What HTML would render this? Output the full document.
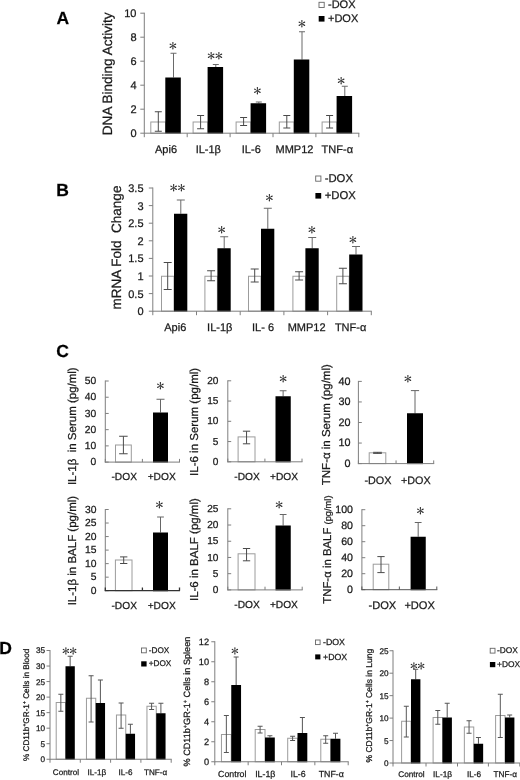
<!DOCTYPE html>
<html><head><meta charset="utf-8"><title>Figure</title>
<style>html,body{margin:0;padding:0;background:#fff}svg{display:block}text{font-family:"Liberation Sans",Arial,sans-serif;text-rendering:geometricPrecision;stroke:#1a1a1a;stroke-width:0.25px}text.st{font-family:IPAGothic,"DejaVu Sans",sans-serif;stroke:none;fill:#2a2a2a}</style>
</head><body>
<svg width="520" height="780" viewBox="0 0 520 780">
<defs><filter id="soft" x="0" y="0" width="520" height="780" filterUnits="userSpaceOnUse"><feGaussianBlur stdDeviation="0.35"/></filter></defs>
<rect width="520" height="780" fill="#fff"/>
<g filter="url(#soft)">
<g id="panelA">
<text x="56.50" y="23.90" font-size="17.5" text-anchor="start" font-weight="bold" fill="#000">A</text>
<line x1="144.30" y1="12.70" x2="144.30" y2="133.70" stroke="#7f7f7f" stroke-width="1"/>
<line x1="140.30" y1="13.20" x2="144.30" y2="13.20" stroke="#7f7f7f" stroke-width="1"/>
<text x="136.50" y="17.16" font-size="11" text-anchor="end" fill="#1a1a1a">10</text>
<line x1="140.30" y1="37.20" x2="144.30" y2="37.20" stroke="#7f7f7f" stroke-width="1"/>
<text x="136.50" y="41.16" font-size="11" text-anchor="end" fill="#1a1a1a">8</text>
<line x1="140.30" y1="61.20" x2="144.30" y2="61.20" stroke="#7f7f7f" stroke-width="1"/>
<text x="136.50" y="65.16" font-size="11" text-anchor="end" fill="#1a1a1a">6</text>
<line x1="140.30" y1="85.20" x2="144.30" y2="85.20" stroke="#7f7f7f" stroke-width="1"/>
<text x="136.50" y="89.16" font-size="11" text-anchor="end" fill="#1a1a1a">4</text>
<line x1="140.30" y1="109.20" x2="144.30" y2="109.20" stroke="#7f7f7f" stroke-width="1"/>
<text x="136.50" y="113.16" font-size="11" text-anchor="end" fill="#1a1a1a">2</text>
<line x1="140.30" y1="133.20" x2="144.30" y2="133.20" stroke="#7f7f7f" stroke-width="1"/>
<text x="136.50" y="137.16" font-size="11" text-anchor="end" fill="#1a1a1a">0</text>
<text x="111.90" y="73.80" font-size="13.55" text-anchor="middle" transform="rotate(-90 111.90 73.80)" fill="#1a1a1a">DNA Binding Activity</text>
<rect x="150.80" y="122.00" width="14.70" height="11.20" fill="#fff" stroke="#9c9c9c" stroke-width="1"/>
<line x1="158.30" y1="111.75" x2="158.30" y2="131.25" stroke="#4a4a4a" stroke-width="1"/>
<line x1="154.80" y1="111.75" x2="161.80" y2="111.75" stroke="#4a4a4a" stroke-width="1"/>
<line x1="154.80" y1="131.25" x2="161.80" y2="131.25" stroke="#4a4a4a" stroke-width="1"/>
<line x1="173.50" y1="53.25" x2="173.50" y2="77.50" stroke="#6a6a6a" stroke-width="1"/>
<line x1="170.50" y1="53.25" x2="176.50" y2="53.25" stroke="#6a6a6a" stroke-width="1"/>
<rect x="165.30" y="77.50" width="15.50" height="56.20" fill="#000"/>
<text x="173.00" y="49.64" font-size="11.3" text-anchor="middle" class="st">＊</text>
<rect x="193.10" y="122.00" width="14.70" height="11.20" fill="#fff" stroke="#9c9c9c" stroke-width="1"/>
<line x1="200.60" y1="115.50" x2="200.60" y2="128.75" stroke="#4a4a4a" stroke-width="1"/>
<line x1="197.10" y1="115.50" x2="204.10" y2="115.50" stroke="#4a4a4a" stroke-width="1"/>
<line x1="197.10" y1="128.75" x2="204.10" y2="128.75" stroke="#4a4a4a" stroke-width="1"/>
<line x1="215.80" y1="64.50" x2="215.80" y2="67.00" stroke="#6a6a6a" stroke-width="1"/>
<line x1="212.80" y1="64.50" x2="218.80" y2="64.50" stroke="#6a6a6a" stroke-width="1"/>
<rect x="207.60" y="67.00" width="15.50" height="66.70" fill="#000"/>
<text x="211.20" y="59.54" font-size="11.3" text-anchor="middle" class="st">＊</text>
<text x="218.80" y="59.54" font-size="11.3" text-anchor="middle" class="st">＊</text>
<rect x="236.10" y="122.00" width="14.70" height="11.20" fill="#fff" stroke="#9c9c9c" stroke-width="1"/>
<line x1="243.60" y1="117.50" x2="243.60" y2="125.50" stroke="#4a4a4a" stroke-width="1"/>
<line x1="240.10" y1="117.50" x2="247.10" y2="117.50" stroke="#4a4a4a" stroke-width="1"/>
<line x1="240.10" y1="125.50" x2="247.10" y2="125.50" stroke="#4a4a4a" stroke-width="1"/>
<line x1="258.80" y1="102.00" x2="258.80" y2="103.25" stroke="#6a6a6a" stroke-width="1"/>
<line x1="255.80" y1="102.00" x2="261.80" y2="102.00" stroke="#6a6a6a" stroke-width="1"/>
<rect x="250.60" y="103.25" width="15.50" height="30.45" fill="#000"/>
<text x="257.50" y="94.74" font-size="11.3" text-anchor="middle" class="st">＊</text>
<rect x="279.30" y="122.00" width="14.70" height="11.20" fill="#fff" stroke="#9c9c9c" stroke-width="1"/>
<line x1="286.80" y1="115.50" x2="286.80" y2="128.00" stroke="#4a4a4a" stroke-width="1"/>
<line x1="283.30" y1="115.50" x2="290.30" y2="115.50" stroke="#4a4a4a" stroke-width="1"/>
<line x1="283.30" y1="128.00" x2="290.30" y2="128.00" stroke="#4a4a4a" stroke-width="1"/>
<line x1="302.00" y1="31.75" x2="302.00" y2="59.50" stroke="#6a6a6a" stroke-width="1"/>
<line x1="299.00" y1="31.75" x2="305.00" y2="31.75" stroke="#6a6a6a" stroke-width="1"/>
<rect x="293.80" y="59.50" width="15.50" height="74.20" fill="#000"/>
<text x="302.00" y="28.49" font-size="11.3" text-anchor="middle" class="st">＊</text>
<rect x="322.10" y="122.00" width="14.70" height="11.20" fill="#fff" stroke="#9c9c9c" stroke-width="1"/>
<line x1="329.60" y1="115.50" x2="329.60" y2="128.00" stroke="#4a4a4a" stroke-width="1"/>
<line x1="326.10" y1="115.50" x2="333.10" y2="115.50" stroke="#4a4a4a" stroke-width="1"/>
<line x1="326.10" y1="128.00" x2="333.10" y2="128.00" stroke="#4a4a4a" stroke-width="1"/>
<line x1="344.80" y1="86.25" x2="344.80" y2="96.00" stroke="#6a6a6a" stroke-width="1"/>
<line x1="341.80" y1="86.25" x2="347.80" y2="86.25" stroke="#6a6a6a" stroke-width="1"/>
<rect x="336.60" y="96.00" width="15.50" height="37.70" fill="#000"/>
<text x="341.25" y="84.74" font-size="11.3" text-anchor="middle" class="st">＊</text>
<line x1="144.30" y1="133.20" x2="359.30" y2="133.20" stroke="#7f7f7f" stroke-width="1"/>
<line x1="144.30" y1="133.20" x2="144.30" y2="137.20" stroke="#7f7f7f" stroke-width="1"/>
<line x1="187.20" y1="133.20" x2="187.20" y2="137.20" stroke="#7f7f7f" stroke-width="1"/>
<line x1="230.10" y1="133.20" x2="230.10" y2="137.20" stroke="#7f7f7f" stroke-width="1"/>
<line x1="273.00" y1="133.20" x2="273.00" y2="137.20" stroke="#7f7f7f" stroke-width="1"/>
<line x1="315.90" y1="133.20" x2="315.90" y2="137.20" stroke="#7f7f7f" stroke-width="1"/>
<line x1="358.80" y1="133.20" x2="358.80" y2="137.20" stroke="#7f7f7f" stroke-width="1"/>
<text x="166.00" y="152.50" font-size="11" text-anchor="middle" fill="#1a1a1a">Api6</text>
<text x="208.30" y="152.50" font-size="11" text-anchor="middle" fill="#1a1a1a">IL-1β</text>
<text x="251.30" y="152.50" font-size="11" text-anchor="middle" fill="#1a1a1a">IL-6</text>
<text x="294.50" y="152.50" font-size="11" text-anchor="middle" fill="#1a1a1a">MMP12</text>
<text x="337.30" y="152.50" font-size="11" text-anchor="middle" fill="#1a1a1a">TNF-α</text>
<rect x="319.00" y="2.30" width="5.2" height="5.2" fill="#fff" stroke="#666" stroke-width="0.9"/>
<rect x="318.70" y="16.00" width="5.8" height="5.6000000000000005" fill="#000"/>
<text x="328.00" y="7.60" font-size="11" text-anchor="start" fill="#1a1a1a">-DOX</text>
<text x="328.00" y="22.00" font-size="11" text-anchor="start" fill="#1a1a1a">+DOX</text>
</g>
<g id="panelB">
<text x="56.20" y="195.90" font-size="17.5" text-anchor="start" font-weight="bold" fill="#000">B</text>
<line x1="152.80" y1="187.50" x2="152.80" y2="311.70" stroke="#7f7f7f" stroke-width="1"/>
<line x1="148.80" y1="188.00" x2="152.80" y2="188.00" stroke="#7f7f7f" stroke-width="1"/>
<text x="143.50" y="191.96" font-size="11" text-anchor="end" fill="#1a1a1a">3.5</text>
<line x1="148.80" y1="205.60" x2="152.80" y2="205.60" stroke="#7f7f7f" stroke-width="1"/>
<text x="143.50" y="209.56" font-size="11" text-anchor="end" fill="#1a1a1a">3</text>
<line x1="148.80" y1="223.20" x2="152.80" y2="223.20" stroke="#7f7f7f" stroke-width="1"/>
<text x="143.50" y="227.16" font-size="11" text-anchor="end" fill="#1a1a1a">2.5</text>
<line x1="148.80" y1="240.80" x2="152.80" y2="240.80" stroke="#7f7f7f" stroke-width="1"/>
<text x="143.50" y="244.76" font-size="11" text-anchor="end" fill="#1a1a1a">2</text>
<line x1="148.80" y1="258.40" x2="152.80" y2="258.40" stroke="#7f7f7f" stroke-width="1"/>
<text x="143.50" y="262.36" font-size="11" text-anchor="end" fill="#1a1a1a">1.5</text>
<line x1="148.80" y1="276.00" x2="152.80" y2="276.00" stroke="#7f7f7f" stroke-width="1"/>
<text x="143.50" y="279.96" font-size="11" text-anchor="end" fill="#1a1a1a">1</text>
<line x1="148.80" y1="293.60" x2="152.80" y2="293.60" stroke="#7f7f7f" stroke-width="1"/>
<text x="143.50" y="297.56" font-size="11" text-anchor="end" fill="#1a1a1a">0.5</text>
<line x1="148.80" y1="311.20" x2="152.80" y2="311.20" stroke="#7f7f7f" stroke-width="1"/>
<text x="143.50" y="315.16" font-size="11" text-anchor="end" fill="#1a1a1a">0</text>
<text x="121.20" y="247.50" font-size="13.5" text-anchor="middle" transform="rotate(-90 121.20 247.50)" fill="#1a1a1a" xml:space="preserve">mRNA Fold  Change</text>
<rect x="161.50" y="276.25" width="12.50" height="34.95" fill="#fff" stroke="#9c9c9c" stroke-width="1"/>
<line x1="167.70" y1="262.50" x2="167.70" y2="289.50" stroke="#4a4a4a" stroke-width="1"/>
<line x1="163.70" y1="262.50" x2="171.70" y2="262.50" stroke="#4a4a4a" stroke-width="1"/>
<line x1="163.70" y1="289.50" x2="171.70" y2="289.50" stroke="#4a4a4a" stroke-width="1"/>
<line x1="180.80" y1="200.00" x2="180.80" y2="213.75" stroke="#6a6a6a" stroke-width="1"/>
<line x1="176.80" y1="200.00" x2="184.80" y2="200.00" stroke="#6a6a6a" stroke-width="1"/>
<rect x="174.00" y="213.75" width="13.30" height="97.95" fill="#000"/>
<text x="173.70" y="191.94" font-size="11.3" text-anchor="middle" class="st">＊</text>
<text x="181.30" y="191.94" font-size="11.3" text-anchor="middle" class="st">＊</text>
<rect x="204.90" y="276.25" width="12.50" height="34.95" fill="#fff" stroke="#9c9c9c" stroke-width="1"/>
<line x1="211.10" y1="270.75" x2="211.10" y2="280.75" stroke="#4a4a4a" stroke-width="1"/>
<line x1="207.10" y1="270.75" x2="215.10" y2="270.75" stroke="#4a4a4a" stroke-width="1"/>
<line x1="207.10" y1="280.75" x2="215.10" y2="280.75" stroke="#4a4a4a" stroke-width="1"/>
<line x1="224.20" y1="236.75" x2="224.20" y2="248.25" stroke="#6a6a6a" stroke-width="1"/>
<line x1="220.20" y1="236.75" x2="228.20" y2="236.75" stroke="#6a6a6a" stroke-width="1"/>
<rect x="217.40" y="248.25" width="13.30" height="63.45" fill="#000"/>
<text x="221.75" y="233.74" font-size="11.3" text-anchor="middle" class="st">＊</text>
<rect x="248.50" y="276.25" width="12.50" height="34.95" fill="#fff" stroke="#9c9c9c" stroke-width="1"/>
<line x1="254.70" y1="269.00" x2="254.70" y2="282.00" stroke="#4a4a4a" stroke-width="1"/>
<line x1="250.70" y1="269.00" x2="258.70" y2="269.00" stroke="#4a4a4a" stroke-width="1"/>
<line x1="250.70" y1="282.00" x2="258.70" y2="282.00" stroke="#4a4a4a" stroke-width="1"/>
<line x1="267.80" y1="208.25" x2="267.80" y2="228.75" stroke="#6a6a6a" stroke-width="1"/>
<line x1="263.80" y1="208.25" x2="271.80" y2="208.25" stroke="#6a6a6a" stroke-width="1"/>
<rect x="261.00" y="228.75" width="13.30" height="82.95" fill="#000"/>
<text x="269.50" y="202.24" font-size="11.3" text-anchor="middle" class="st">＊</text>
<rect x="292.90" y="276.25" width="12.50" height="34.95" fill="#fff" stroke="#9c9c9c" stroke-width="1"/>
<line x1="299.10" y1="271.75" x2="299.10" y2="280.00" stroke="#4a4a4a" stroke-width="1"/>
<line x1="295.10" y1="271.75" x2="303.10" y2="271.75" stroke="#4a4a4a" stroke-width="1"/>
<line x1="295.10" y1="280.00" x2="303.10" y2="280.00" stroke="#4a4a4a" stroke-width="1"/>
<line x1="312.20" y1="237.50" x2="312.20" y2="248.25" stroke="#6a6a6a" stroke-width="1"/>
<line x1="308.20" y1="237.50" x2="316.20" y2="237.50" stroke="#6a6a6a" stroke-width="1"/>
<rect x="305.40" y="248.25" width="13.30" height="63.45" fill="#000"/>
<text x="312.00" y="233.74" font-size="11.3" text-anchor="middle" class="st">＊</text>
<rect x="336.70" y="276.25" width="12.50" height="34.95" fill="#fff" stroke="#9c9c9c" stroke-width="1"/>
<line x1="342.90" y1="268.25" x2="342.90" y2="283.75" stroke="#4a4a4a" stroke-width="1"/>
<line x1="338.90" y1="268.25" x2="346.90" y2="268.25" stroke="#4a4a4a" stroke-width="1"/>
<line x1="338.90" y1="283.75" x2="346.90" y2="283.75" stroke="#4a4a4a" stroke-width="1"/>
<line x1="356.00" y1="246.50" x2="356.00" y2="254.50" stroke="#6a6a6a" stroke-width="1"/>
<line x1="352.00" y1="246.50" x2="360.00" y2="246.50" stroke="#6a6a6a" stroke-width="1"/>
<rect x="349.20" y="254.50" width="13.30" height="57.20" fill="#000"/>
<text x="353.00" y="243.74" font-size="11.3" text-anchor="middle" class="st">＊</text>
<line x1="152.80" y1="311.20" x2="371.80" y2="311.20" stroke="#7f7f7f" stroke-width="1"/>
<line x1="152.80" y1="311.20" x2="152.80" y2="315.20" stroke="#7f7f7f" stroke-width="1"/>
<line x1="196.50" y1="311.20" x2="196.50" y2="315.20" stroke="#7f7f7f" stroke-width="1"/>
<line x1="240.20" y1="311.20" x2="240.20" y2="315.20" stroke="#7f7f7f" stroke-width="1"/>
<line x1="283.90" y1="311.20" x2="283.90" y2="315.20" stroke="#7f7f7f" stroke-width="1"/>
<line x1="327.60" y1="311.20" x2="327.60" y2="315.20" stroke="#7f7f7f" stroke-width="1"/>
<line x1="371.30" y1="311.20" x2="371.30" y2="315.20" stroke="#7f7f7f" stroke-width="1"/>
<text x="175.25" y="331.30" font-size="11" text-anchor="middle" fill="#1a1a1a">Api6</text>
<text x="219.75" y="331.30" font-size="11" text-anchor="middle" fill="#1a1a1a">IL-1β</text>
<text x="263.00" y="331.30" font-size="11" text-anchor="middle" fill="#1a1a1a">IL- 6</text>
<text x="306.60" y="331.30" font-size="11" text-anchor="middle" fill="#1a1a1a">MMP12</text>
<text x="350.60" y="331.30" font-size="11" text-anchor="middle" fill="#1a1a1a">TNF-α</text>
<rect x="315.70" y="176.00" width="5.2" height="5.2" fill="#fff" stroke="#666" stroke-width="0.9"/>
<rect x="315.40" y="193.00" width="5.8" height="5.6000000000000005" fill="#000"/>
<text x="324.70" y="181.80" font-size="11.3" text-anchor="start" fill="#1a1a1a">-DOX</text>
<text x="324.70" y="198.80" font-size="11.3" text-anchor="start" fill="#1a1a1a">+DOX</text>
</g>
<g id="panelC">
<text x="56.30" y="356.50" font-size="17.5" text-anchor="start" font-weight="bold" fill="#000">C</text>
<line x1="105.30" y1="380.50" x2="105.30" y2="462.60" stroke="#7f7f7f" stroke-width="1"/>
<line x1="105.30" y1="381.00" x2="108.70" y2="381.00" stroke="#7f7f7f" stroke-width="1"/>
<text x="96.30" y="384.11" font-size="10.3" text-anchor="end" fill="#1a1a1a">50</text>
<line x1="105.30" y1="397.22" x2="108.70" y2="397.22" stroke="#7f7f7f" stroke-width="1"/>
<text x="96.30" y="400.33" font-size="10.3" text-anchor="end" fill="#1a1a1a">40</text>
<line x1="105.30" y1="413.44" x2="108.70" y2="413.44" stroke="#7f7f7f" stroke-width="1"/>
<text x="96.30" y="416.55" font-size="10.3" text-anchor="end" fill="#1a1a1a">30</text>
<line x1="105.30" y1="429.66" x2="108.70" y2="429.66" stroke="#7f7f7f" stroke-width="1"/>
<text x="96.30" y="432.77" font-size="10.3" text-anchor="end" fill="#1a1a1a">20</text>
<line x1="105.30" y1="445.88" x2="108.70" y2="445.88" stroke="#7f7f7f" stroke-width="1"/>
<text x="96.30" y="448.99" font-size="10.3" text-anchor="end" fill="#1a1a1a">10</text>
<line x1="105.30" y1="462.10" x2="108.70" y2="462.10" stroke="#7f7f7f" stroke-width="1"/>
<text x="96.30" y="465.21" font-size="10.3" text-anchor="end" fill="#1a1a1a">0</text>
<rect x="115.50" y="445.00" width="15.80" height="17.10" fill="#fff" stroke="#9c9c9c" stroke-width="1"/>
<line x1="123.40" y1="436.25" x2="123.40" y2="453.75" stroke="#4a4a4a" stroke-width="1"/>
<line x1="119.15" y1="436.25" x2="127.65" y2="436.25" stroke="#4a4a4a" stroke-width="1"/>
<line x1="119.15" y1="453.75" x2="127.65" y2="453.75" stroke="#4a4a4a" stroke-width="1"/>
<line x1="160.50" y1="399.25" x2="160.50" y2="412.50" stroke="#666" stroke-width="1"/>
<line x1="156.50" y1="399.25" x2="164.50" y2="399.25" stroke="#666" stroke-width="1"/>
<rect x="153.00" y="412.50" width="15.00" height="50.10" fill="#000"/>
<line x1="104.80" y1="462.10" x2="180.00" y2="462.10" stroke="#7f7f7f" stroke-width="1"/>
<line x1="105.30" y1="462.10" x2="105.30" y2="458.90" stroke="#7f7f7f" stroke-width="1"/>
<line x1="142.40" y1="462.10" x2="142.40" y2="458.90" stroke="#7f7f7f" stroke-width="1"/>
<line x1="179.50" y1="462.10" x2="179.50" y2="458.90" stroke="#7f7f7f" stroke-width="1"/>
<text x="160.50" y="390.49" font-size="11.3" text-anchor="middle" class="st">＊</text>
<text x="124.20" y="480.40" font-size="10.2" text-anchor="middle" fill="#1a1a1a">-DOX</text>
<text x="161.70" y="480.40" font-size="10.2" text-anchor="middle" fill="#1a1a1a">+DOX</text>
<text x="76.40" y="426.20" font-size="11.5" text-anchor="middle" transform="rotate(-90 76.40 426.20)" fill="#1a1a1a" xml:space="preserve">IL-1β  in Serum (pg/ml)</text>
<line x1="227.80" y1="380.30" x2="227.80" y2="462.30" stroke="#7f7f7f" stroke-width="1"/>
<line x1="227.80" y1="380.80" x2="231.20" y2="380.80" stroke="#7f7f7f" stroke-width="1"/>
<text x="218.40" y="383.84" font-size="10.1" text-anchor="end" fill="#1a1a1a">20</text>
<line x1="227.80" y1="401.05" x2="231.20" y2="401.05" stroke="#7f7f7f" stroke-width="1"/>
<text x="218.40" y="404.09" font-size="10.1" text-anchor="end" fill="#1a1a1a">15</text>
<line x1="227.80" y1="421.30" x2="231.20" y2="421.30" stroke="#7f7f7f" stroke-width="1"/>
<text x="218.40" y="424.34" font-size="10.1" text-anchor="end" fill="#1a1a1a">10</text>
<line x1="227.80" y1="441.55" x2="231.20" y2="441.55" stroke="#7f7f7f" stroke-width="1"/>
<text x="218.40" y="444.59" font-size="10.1" text-anchor="end" fill="#1a1a1a">5</text>
<line x1="227.80" y1="461.80" x2="231.20" y2="461.80" stroke="#7f7f7f" stroke-width="1"/>
<text x="218.40" y="464.84" font-size="10.1" text-anchor="end" fill="#1a1a1a">0</text>
<rect x="238.10" y="436.90" width="16.90" height="24.90" fill="#fff" stroke="#9c9c9c" stroke-width="1"/>
<line x1="246.55" y1="431.20" x2="246.55" y2="443.80" stroke="#4a4a4a" stroke-width="1"/>
<line x1="242.90" y1="431.20" x2="250.20" y2="431.20" stroke="#4a4a4a" stroke-width="1"/>
<line x1="242.90" y1="443.80" x2="250.20" y2="443.80" stroke="#4a4a4a" stroke-width="1"/>
<line x1="283.12" y1="390.75" x2="283.12" y2="396.25" stroke="#666" stroke-width="1"/>
<line x1="279.73" y1="390.75" x2="286.52" y2="390.75" stroke="#666" stroke-width="1"/>
<rect x="275.50" y="396.25" width="15.25" height="66.05" fill="#000"/>
<line x1="227.30" y1="461.80" x2="302.50" y2="461.80" stroke="#7f7f7f" stroke-width="1"/>
<line x1="227.80" y1="461.80" x2="227.80" y2="458.60" stroke="#7f7f7f" stroke-width="1"/>
<line x1="264.90" y1="461.80" x2="264.90" y2="458.60" stroke="#7f7f7f" stroke-width="1"/>
<line x1="302.00" y1="461.80" x2="302.00" y2="458.60" stroke="#7f7f7f" stroke-width="1"/>
<text x="283.25" y="382.99" font-size="11.3" text-anchor="middle" class="st">＊</text>
<text x="247.00" y="480.40" font-size="10.2" text-anchor="middle" fill="#1a1a1a">-DOX</text>
<text x="284.00" y="480.40" font-size="10.2" text-anchor="middle" fill="#1a1a1a">+DOX</text>
<text x="198.20" y="421.90" font-size="11.5" text-anchor="middle" transform="rotate(-90 198.20 421.90)" fill="#1a1a1a" xml:space="preserve">IL-6 in Serum (pg/ml)</text>
<line x1="358.40" y1="380.90" x2="358.40" y2="464.10" stroke="#7f7f7f" stroke-width="1"/>
<line x1="358.40" y1="381.40" x2="361.80" y2="381.40" stroke="#7f7f7f" stroke-width="1"/>
<text x="350.40" y="384.69" font-size="10.8" text-anchor="end" fill="#1a1a1a">40</text>
<line x1="358.40" y1="401.95" x2="361.80" y2="401.95" stroke="#7f7f7f" stroke-width="1"/>
<text x="350.40" y="405.24" font-size="10.8" text-anchor="end" fill="#1a1a1a">30</text>
<line x1="358.40" y1="422.50" x2="361.80" y2="422.50" stroke="#7f7f7f" stroke-width="1"/>
<text x="350.40" y="425.79" font-size="10.8" text-anchor="end" fill="#1a1a1a">20</text>
<line x1="358.40" y1="443.05" x2="361.80" y2="443.05" stroke="#7f7f7f" stroke-width="1"/>
<text x="350.40" y="446.34" font-size="10.8" text-anchor="end" fill="#1a1a1a">10</text>
<line x1="358.40" y1="463.60" x2="361.80" y2="463.60" stroke="#7f7f7f" stroke-width="1"/>
<text x="350.40" y="466.89" font-size="10.8" text-anchor="end" fill="#1a1a1a">0</text>
<rect x="369.20" y="452.80" width="16.60" height="10.80" fill="#fff" stroke="#9c9c9c" stroke-width="1"/>
<line x1="377.50" y1="452.30" x2="377.50" y2="453.40" stroke="#4a4a4a" stroke-width="1"/>
<line x1="373.15" y1="452.30" x2="381.85" y2="452.30" stroke="#4a4a4a" stroke-width="1"/>
<line x1="373.15" y1="453.40" x2="381.85" y2="453.40" stroke="#4a4a4a" stroke-width="1"/>
<line x1="415.00" y1="390.60" x2="415.00" y2="413.25" stroke="#666" stroke-width="1"/>
<line x1="410.90" y1="390.60" x2="419.10" y2="390.60" stroke="#666" stroke-width="1"/>
<rect x="407.00" y="413.25" width="16.00" height="50.85" fill="#000"/>
<line x1="357.90" y1="463.60" x2="434.20" y2="463.60" stroke="#7f7f7f" stroke-width="1"/>
<line x1="358.40" y1="463.60" x2="358.40" y2="460.40" stroke="#7f7f7f" stroke-width="1"/>
<line x1="396.05" y1="463.60" x2="396.05" y2="460.40" stroke="#7f7f7f" stroke-width="1"/>
<line x1="433.70" y1="463.60" x2="433.70" y2="460.40" stroke="#7f7f7f" stroke-width="1"/>
<text x="408.00" y="382.99" font-size="11.3" text-anchor="middle" class="st">＊</text>
<text x="377.90" y="483.50" font-size="10.8" text-anchor="middle" fill="#1a1a1a">-DOX</text>
<text x="415.85" y="483.50" font-size="10.8" text-anchor="middle" fill="#1a1a1a">+DOX</text>
<text x="330.30" y="424.70" font-size="11.5" text-anchor="middle" transform="rotate(-90 330.30 424.70)" fill="#1a1a1a" xml:space="preserve">TNF-α in Serum (pg/ml)</text>
<line x1="105.30" y1="509.00" x2="105.30" y2="591.20" stroke="#7f7f7f" stroke-width="1"/>
<line x1="105.30" y1="509.50" x2="108.70" y2="509.50" stroke="#7f7f7f" stroke-width="1"/>
<text x="96.40" y="512.61" font-size="10.3" text-anchor="end" fill="#1a1a1a">30</text>
<line x1="105.30" y1="523.03" x2="108.70" y2="523.03" stroke="#7f7f7f" stroke-width="1"/>
<text x="96.40" y="526.14" font-size="10.3" text-anchor="end" fill="#1a1a1a">25</text>
<line x1="105.30" y1="536.57" x2="108.70" y2="536.57" stroke="#7f7f7f" stroke-width="1"/>
<text x="96.40" y="539.67" font-size="10.3" text-anchor="end" fill="#1a1a1a">20</text>
<line x1="105.30" y1="550.10" x2="108.70" y2="550.10" stroke="#7f7f7f" stroke-width="1"/>
<text x="96.40" y="553.21" font-size="10.3" text-anchor="end" fill="#1a1a1a">15</text>
<line x1="105.30" y1="563.63" x2="108.70" y2="563.63" stroke="#7f7f7f" stroke-width="1"/>
<text x="96.40" y="566.74" font-size="10.3" text-anchor="end" fill="#1a1a1a">10</text>
<line x1="105.30" y1="577.17" x2="108.70" y2="577.17" stroke="#7f7f7f" stroke-width="1"/>
<text x="96.40" y="580.27" font-size="10.3" text-anchor="end" fill="#1a1a1a">5</text>
<line x1="105.30" y1="590.70" x2="108.70" y2="590.70" stroke="#7f7f7f" stroke-width="1"/>
<text x="96.40" y="593.81" font-size="10.3" text-anchor="end" fill="#1a1a1a">0</text>
<rect x="115.40" y="560.00" width="16.60" height="30.70" fill="#fff" stroke="#9c9c9c" stroke-width="1"/>
<line x1="123.70" y1="556.90" x2="123.70" y2="563.50" stroke="#4a4a4a" stroke-width="1"/>
<line x1="120.05" y1="556.90" x2="127.35" y2="556.90" stroke="#4a4a4a" stroke-width="1"/>
<line x1="120.05" y1="563.50" x2="127.35" y2="563.50" stroke="#4a4a4a" stroke-width="1"/>
<line x1="160.50" y1="517.00" x2="160.50" y2="532.50" stroke="#666" stroke-width="1"/>
<line x1="157.10" y1="517.00" x2="163.90" y2="517.00" stroke="#666" stroke-width="1"/>
<rect x="153.00" y="532.50" width="15.00" height="58.70" fill="#000"/>
<line x1="104.80" y1="590.70" x2="180.00" y2="590.70" stroke="#333" stroke-width="1.3"/>
<line x1="105.30" y1="590.70" x2="105.30" y2="587.50" stroke="#333" stroke-width="1.3"/>
<line x1="142.40" y1="590.70" x2="142.40" y2="587.50" stroke="#333" stroke-width="1.3"/>
<line x1="179.50" y1="590.70" x2="179.50" y2="587.50" stroke="#333" stroke-width="1.3"/>
<text x="159.50" y="509.24" font-size="11.3" text-anchor="middle" class="st">＊</text>
<text x="124.20" y="609.10" font-size="10.2" text-anchor="middle" fill="#1a1a1a">-DOX</text>
<text x="161.70" y="609.10" font-size="10.2" text-anchor="middle" fill="#1a1a1a">+DOX</text>
<text x="75.90" y="550.60" font-size="11.5" text-anchor="middle" transform="rotate(-90 75.90 550.60)" fill="#1a1a1a" xml:space="preserve">IL-1β in BALF (pg/ml)</text>
<line x1="227.80" y1="508.30" x2="227.80" y2="590.40" stroke="#7f7f7f" stroke-width="1"/>
<line x1="227.80" y1="508.80" x2="231.20" y2="508.80" stroke="#7f7f7f" stroke-width="1"/>
<text x="218.40" y="511.84" font-size="10.1" text-anchor="end" fill="#1a1a1a">25</text>
<line x1="227.80" y1="525.02" x2="231.20" y2="525.02" stroke="#7f7f7f" stroke-width="1"/>
<text x="218.40" y="528.06" font-size="10.1" text-anchor="end" fill="#1a1a1a">20</text>
<line x1="227.80" y1="541.24" x2="231.20" y2="541.24" stroke="#7f7f7f" stroke-width="1"/>
<text x="218.40" y="544.28" font-size="10.1" text-anchor="end" fill="#1a1a1a">15</text>
<line x1="227.80" y1="557.46" x2="231.20" y2="557.46" stroke="#7f7f7f" stroke-width="1"/>
<text x="218.40" y="560.50" font-size="10.1" text-anchor="end" fill="#1a1a1a">10</text>
<line x1="227.80" y1="573.68" x2="231.20" y2="573.68" stroke="#7f7f7f" stroke-width="1"/>
<text x="218.40" y="576.72" font-size="10.1" text-anchor="end" fill="#1a1a1a">5</text>
<line x1="227.80" y1="589.90" x2="231.20" y2="589.90" stroke="#7f7f7f" stroke-width="1"/>
<text x="218.40" y="592.94" font-size="10.1" text-anchor="end" fill="#1a1a1a">0</text>
<rect x="238.10" y="553.80" width="16.90" height="36.10" fill="#fff" stroke="#9c9c9c" stroke-width="1"/>
<line x1="246.55" y1="548.50" x2="246.55" y2="560.80" stroke="#4a4a4a" stroke-width="1"/>
<line x1="242.90" y1="548.50" x2="250.20" y2="548.50" stroke="#4a4a4a" stroke-width="1"/>
<line x1="242.90" y1="560.80" x2="250.20" y2="560.80" stroke="#4a4a4a" stroke-width="1"/>
<line x1="283.12" y1="514.50" x2="283.12" y2="525.50" stroke="#666" stroke-width="1"/>
<line x1="279.73" y1="514.50" x2="286.52" y2="514.50" stroke="#666" stroke-width="1"/>
<rect x="275.50" y="525.50" width="15.25" height="64.90" fill="#000"/>
<line x1="227.30" y1="589.90" x2="302.70" y2="589.90" stroke="#7f7f7f" stroke-width="1"/>
<line x1="227.80" y1="589.90" x2="227.80" y2="586.70" stroke="#7f7f7f" stroke-width="1"/>
<line x1="265.00" y1="589.90" x2="265.00" y2="586.70" stroke="#7f7f7f" stroke-width="1"/>
<line x1="302.20" y1="589.90" x2="302.20" y2="586.70" stroke="#7f7f7f" stroke-width="1"/>
<text x="279.25" y="509.24" font-size="11.3" text-anchor="middle" class="st">＊</text>
<text x="247.00" y="608.20" font-size="10.2" text-anchor="middle" fill="#1a1a1a">-DOX</text>
<text x="283.90" y="608.20" font-size="10.2" text-anchor="middle" fill="#1a1a1a">+DOX</text>
<text x="198.30" y="549.60" font-size="11.5" text-anchor="middle" transform="rotate(-90 198.30 549.60)" fill="#1a1a1a" xml:space="preserve">IL-6 in BALF (pg/ml)</text>
<line x1="361.90" y1="509.20" x2="361.90" y2="590.20" stroke="#7f7f7f" stroke-width="1"/>
<line x1="361.90" y1="509.70" x2="365.30" y2="509.70" stroke="#7f7f7f" stroke-width="1"/>
<text x="353.00" y="512.92" font-size="10.6" text-anchor="end" fill="#1a1a1a">100</text>
<line x1="361.90" y1="525.70" x2="365.30" y2="525.70" stroke="#7f7f7f" stroke-width="1"/>
<text x="353.00" y="528.92" font-size="10.6" text-anchor="end" fill="#1a1a1a">80</text>
<line x1="361.90" y1="541.70" x2="365.30" y2="541.70" stroke="#7f7f7f" stroke-width="1"/>
<text x="353.00" y="544.92" font-size="10.6" text-anchor="end" fill="#1a1a1a">60</text>
<line x1="361.90" y1="557.70" x2="365.30" y2="557.70" stroke="#7f7f7f" stroke-width="1"/>
<text x="353.00" y="560.92" font-size="10.6" text-anchor="end" fill="#1a1a1a">40</text>
<line x1="361.90" y1="573.70" x2="365.30" y2="573.70" stroke="#7f7f7f" stroke-width="1"/>
<text x="353.00" y="576.92" font-size="10.6" text-anchor="end" fill="#1a1a1a">20</text>
<line x1="361.90" y1="589.70" x2="365.30" y2="589.70" stroke="#7f7f7f" stroke-width="1"/>
<text x="353.00" y="592.92" font-size="10.6" text-anchor="end" fill="#1a1a1a">0</text>
<rect x="373.20" y="564.20" width="15.60" height="25.50" fill="#fff" stroke="#9c9c9c" stroke-width="1"/>
<line x1="381.00" y1="556.60" x2="381.00" y2="572.60" stroke="#4a4a4a" stroke-width="1"/>
<line x1="377.35" y1="556.60" x2="384.65" y2="556.60" stroke="#4a4a4a" stroke-width="1"/>
<line x1="377.35" y1="572.60" x2="384.65" y2="572.60" stroke="#4a4a4a" stroke-width="1"/>
<line x1="418.18" y1="522.50" x2="418.18" y2="536.75" stroke="#666" stroke-width="1"/>
<line x1="414.78" y1="522.50" x2="421.57" y2="522.50" stroke="#666" stroke-width="1"/>
<rect x="410.60" y="536.75" width="15.15" height="53.45" fill="#000"/>
<line x1="361.40" y1="589.70" x2="437.30" y2="589.70" stroke="#555" stroke-width="1"/>
<line x1="361.90" y1="589.70" x2="361.90" y2="586.50" stroke="#555" stroke-width="1"/>
<line x1="399.35" y1="589.70" x2="399.35" y2="586.50" stroke="#555" stroke-width="1"/>
<line x1="436.80" y1="589.70" x2="436.80" y2="586.50" stroke="#555" stroke-width="1"/>
<text x="420.50" y="515.49" font-size="11.3" text-anchor="middle" class="st">＊</text>
<text x="382.35" y="608.50" font-size="11.1" text-anchor="middle" fill="#1a1a1a">-DOX</text>
<text x="419.65" y="608.50" font-size="11.1" text-anchor="middle" fill="#1a1a1a">+DOX</text>
<text x="330.6" y="603.8" font-size="11.4" transform="rotate(-90 330.6 603.8)" fill="#1a1a1a" xml:space="preserve">TNF-α in BALF <tspan font-size="9.3">(pg/ml)</tspan></text>
</g>
<g id="panelD">
<text x="-0.75" y="653.50" font-size="17.5" text-anchor="start" font-weight="bold" fill="#000">D</text>
<line x1="50.00" y1="650.00" x2="50.00" y2="759.75" stroke="#7f7f7f" stroke-width="1"/>
<line x1="46.50" y1="650.50" x2="50.00" y2="650.50" stroke="#7f7f7f" stroke-width="1"/>
<text x="45.00" y="653.45" font-size="8.2" text-anchor="end" fill="#1a1a1a">35</text>
<line x1="46.50" y1="666.04" x2="50.00" y2="666.04" stroke="#7f7f7f" stroke-width="1"/>
<text x="45.00" y="668.99" font-size="8.2" text-anchor="end" fill="#1a1a1a">30</text>
<line x1="46.50" y1="681.57" x2="50.00" y2="681.57" stroke="#7f7f7f" stroke-width="1"/>
<text x="45.00" y="684.52" font-size="8.2" text-anchor="end" fill="#1a1a1a">25</text>
<line x1="46.50" y1="697.11" x2="50.00" y2="697.11" stroke="#7f7f7f" stroke-width="1"/>
<text x="45.00" y="700.06" font-size="8.2" text-anchor="end" fill="#1a1a1a">20</text>
<line x1="46.50" y1="712.64" x2="50.00" y2="712.64" stroke="#7f7f7f" stroke-width="1"/>
<text x="45.00" y="715.59" font-size="8.2" text-anchor="end" fill="#1a1a1a">15</text>
<line x1="46.50" y1="728.18" x2="50.00" y2="728.18" stroke="#7f7f7f" stroke-width="1"/>
<text x="45.00" y="731.13" font-size="8.2" text-anchor="end" fill="#1a1a1a">10</text>
<line x1="46.50" y1="743.71" x2="50.00" y2="743.71" stroke="#7f7f7f" stroke-width="1"/>
<text x="45.00" y="746.67" font-size="8.2" text-anchor="end" fill="#1a1a1a">5</text>
<line x1="46.50" y1="759.25" x2="50.00" y2="759.25" stroke="#7f7f7f" stroke-width="1"/>
<text x="45.00" y="762.20" font-size="8.2" text-anchor="end" fill="#1a1a1a">0</text>
<rect x="56.20" y="702.50" width="9.30" height="56.75" fill="#fff" stroke="#9c9c9c" stroke-width="1"/>
<line x1="60.85" y1="694.25" x2="60.85" y2="711.25" stroke="#555" stroke-width="1"/>
<line x1="58.35" y1="694.25" x2="63.35" y2="694.25" stroke="#555" stroke-width="1"/>
<line x1="58.35" y1="711.25" x2="63.35" y2="711.25" stroke="#555" stroke-width="1"/>
<line x1="70.15" y1="656.25" x2="70.15" y2="666.25" stroke="#555" stroke-width="1"/>
<line x1="67.65" y1="656.25" x2="72.65" y2="656.25" stroke="#555" stroke-width="1"/>
<rect x="65.50" y="666.25" width="9.30" height="93.50" fill="#000"/>
<rect x="86.45" y="698.25" width="9.30" height="61.00" fill="#fff" stroke="#9c9c9c" stroke-width="1"/>
<line x1="91.10" y1="675.75" x2="91.10" y2="722.00" stroke="#555" stroke-width="1"/>
<line x1="88.60" y1="675.75" x2="93.60" y2="675.75" stroke="#555" stroke-width="1"/>
<line x1="88.60" y1="722.00" x2="93.60" y2="722.00" stroke="#555" stroke-width="1"/>
<line x1="100.40" y1="680.00" x2="100.40" y2="703.00" stroke="#555" stroke-width="1"/>
<line x1="97.90" y1="680.00" x2="102.90" y2="680.00" stroke="#555" stroke-width="1"/>
<rect x="95.75" y="703.00" width="9.30" height="56.75" fill="#000"/>
<rect x="116.45" y="715.00" width="9.30" height="44.25" fill="#fff" stroke="#9c9c9c" stroke-width="1"/>
<line x1="121.10" y1="703.00" x2="121.10" y2="728.25" stroke="#555" stroke-width="1"/>
<line x1="118.60" y1="703.00" x2="123.60" y2="703.00" stroke="#555" stroke-width="1"/>
<line x1="118.60" y1="728.25" x2="123.60" y2="728.25" stroke="#555" stroke-width="1"/>
<line x1="130.40" y1="724.25" x2="130.40" y2="733.75" stroke="#555" stroke-width="1"/>
<line x1="127.90" y1="724.25" x2="132.90" y2="724.25" stroke="#555" stroke-width="1"/>
<rect x="125.75" y="733.75" width="9.30" height="26.00" fill="#000"/>
<rect x="146.95" y="706.25" width="9.30" height="53.00" fill="#fff" stroke="#9c9c9c" stroke-width="1"/>
<line x1="151.60" y1="703.25" x2="151.60" y2="709.50" stroke="#555" stroke-width="1"/>
<line x1="149.10" y1="703.25" x2="154.10" y2="703.25" stroke="#555" stroke-width="1"/>
<line x1="149.10" y1="709.50" x2="154.10" y2="709.50" stroke="#555" stroke-width="1"/>
<line x1="160.90" y1="703.25" x2="160.90" y2="713.25" stroke="#555" stroke-width="1"/>
<line x1="158.40" y1="703.25" x2="163.40" y2="703.25" stroke="#555" stroke-width="1"/>
<rect x="156.25" y="713.25" width="9.30" height="46.50" fill="#000"/>
<line x1="50.00" y1="759.25" x2="171.70" y2="759.25" stroke="#7f7f7f" stroke-width="1"/>
<line x1="50.00" y1="759.25" x2="50.00" y2="762.75" stroke="#7f7f7f" stroke-width="1"/>
<line x1="80.30" y1="759.25" x2="80.30" y2="762.75" stroke="#7f7f7f" stroke-width="1"/>
<line x1="110.60" y1="759.25" x2="110.60" y2="762.75" stroke="#7f7f7f" stroke-width="1"/>
<line x1="140.90" y1="759.25" x2="140.90" y2="762.75" stroke="#7f7f7f" stroke-width="1"/>
<line x1="171.20" y1="759.25" x2="171.20" y2="762.75" stroke="#7f7f7f" stroke-width="1"/>
<text x="65.80" y="655.30" font-size="10.8" text-anchor="middle" class="st">＊</text>
<text x="73.20" y="655.30" font-size="10.8" text-anchor="middle" class="st">＊</text>
<text x="65.90" y="774.50" font-size="8.1" text-anchor="middle" fill="#1a1a1a">Control</text>
<text x="96.90" y="774.50" font-size="8.1" text-anchor="middle" fill="#1a1a1a">IL-1β</text>
<text x="125.60" y="774.50" font-size="8.1" text-anchor="middle" fill="#1a1a1a">IL-6</text>
<text x="155.60" y="774.50" font-size="8.1" text-anchor="middle" fill="#1a1a1a">TNF-α</text>
<text x="29.3" y="704.9" font-size="8.2" text-anchor="middle" transform="rotate(-90 29.3 704.9)" fill="#111">% CD11b<tspan font-size="5.1" dy="-3.1">+</tspan><tspan dy="3.1">GR-1</tspan><tspan font-size="5.1" dy="-3.1">+</tspan><tspan dy="3.1"> Cells in Blood</tspan></text>
<rect x="141.50" y="648.00" width="4.8" height="4.8" fill="#fff" stroke="#666" stroke-width="0.9"/>
<rect x="141.20" y="661.30" width="5.3999999999999995" height="5.2" fill="#000"/>
<text x="148.80" y="653.00" font-size="8.2" text-anchor="start" fill="#1a1a1a">-DOX</text>
<text x="148.80" y="666.30" font-size="8.2" text-anchor="start" fill="#1a1a1a">+DOX</text>
<line x1="214.80" y1="641.25" x2="214.80" y2="762.25" stroke="#7f7f7f" stroke-width="1"/>
<line x1="211.30" y1="641.75" x2="214.80" y2="641.75" stroke="#7f7f7f" stroke-width="1"/>
<text x="209.00" y="645.06" font-size="9.2" text-anchor="end" fill="#1a1a1a">12</text>
<line x1="211.30" y1="661.75" x2="214.80" y2="661.75" stroke="#7f7f7f" stroke-width="1"/>
<text x="209.00" y="665.06" font-size="9.2" text-anchor="end" fill="#1a1a1a">10</text>
<line x1="211.30" y1="681.75" x2="214.80" y2="681.75" stroke="#7f7f7f" stroke-width="1"/>
<text x="209.00" y="685.06" font-size="9.2" text-anchor="end" fill="#1a1a1a">8</text>
<line x1="211.30" y1="701.75" x2="214.80" y2="701.75" stroke="#7f7f7f" stroke-width="1"/>
<text x="209.00" y="705.06" font-size="9.2" text-anchor="end" fill="#1a1a1a">6</text>
<line x1="211.30" y1="721.75" x2="214.80" y2="721.75" stroke="#7f7f7f" stroke-width="1"/>
<text x="209.00" y="725.06" font-size="9.2" text-anchor="end" fill="#1a1a1a">4</text>
<line x1="211.30" y1="741.75" x2="214.80" y2="741.75" stroke="#7f7f7f" stroke-width="1"/>
<text x="209.00" y="745.06" font-size="9.2" text-anchor="end" fill="#1a1a1a">2</text>
<line x1="211.30" y1="761.75" x2="214.80" y2="761.75" stroke="#7f7f7f" stroke-width="1"/>
<text x="209.00" y="765.06" font-size="9.2" text-anchor="end" fill="#1a1a1a">0</text>
<rect x="221.45" y="734.50" width="9.80" height="27.25" fill="#fff" stroke="#9c9c9c" stroke-width="1"/>
<line x1="226.35" y1="715.50" x2="226.35" y2="752.50" stroke="#555" stroke-width="1"/>
<line x1="223.85" y1="715.50" x2="228.85" y2="715.50" stroke="#555" stroke-width="1"/>
<line x1="223.85" y1="752.50" x2="228.85" y2="752.50" stroke="#555" stroke-width="1"/>
<line x1="236.15" y1="657.00" x2="236.15" y2="685.00" stroke="#555" stroke-width="1"/>
<line x1="233.65" y1="657.00" x2="238.65" y2="657.00" stroke="#555" stroke-width="1"/>
<rect x="231.25" y="685.00" width="9.80" height="77.25" fill="#000"/>
<rect x="255.20" y="729.50" width="9.80" height="32.25" fill="#fff" stroke="#9c9c9c" stroke-width="1"/>
<line x1="260.10" y1="726.25" x2="260.10" y2="733.00" stroke="#555" stroke-width="1"/>
<line x1="257.60" y1="726.25" x2="262.60" y2="726.25" stroke="#555" stroke-width="1"/>
<line x1="257.60" y1="733.00" x2="262.60" y2="733.00" stroke="#555" stroke-width="1"/>
<line x1="269.90" y1="735.75" x2="269.90" y2="737.50" stroke="#555" stroke-width="1"/>
<line x1="267.40" y1="735.75" x2="272.40" y2="735.75" stroke="#555" stroke-width="1"/>
<rect x="265.00" y="737.50" width="9.80" height="24.75" fill="#000"/>
<rect x="287.70" y="738.25" width="9.80" height="23.50" fill="#fff" stroke="#9c9c9c" stroke-width="1"/>
<line x1="292.60" y1="736.25" x2="292.60" y2="740.50" stroke="#555" stroke-width="1"/>
<line x1="290.10" y1="736.25" x2="295.10" y2="736.25" stroke="#555" stroke-width="1"/>
<line x1="290.10" y1="740.50" x2="295.10" y2="740.50" stroke="#555" stroke-width="1"/>
<line x1="302.40" y1="717.50" x2="302.40" y2="733.00" stroke="#555" stroke-width="1"/>
<line x1="299.90" y1="717.50" x2="304.90" y2="717.50" stroke="#555" stroke-width="1"/>
<rect x="297.50" y="733.00" width="9.80" height="29.25" fill="#000"/>
<rect x="320.80" y="739.25" width="9.80" height="22.50" fill="#fff" stroke="#9c9c9c" stroke-width="1"/>
<line x1="325.70" y1="735.75" x2="325.70" y2="743.25" stroke="#555" stroke-width="1"/>
<line x1="323.20" y1="735.75" x2="328.20" y2="735.75" stroke="#555" stroke-width="1"/>
<line x1="323.20" y1="743.25" x2="328.20" y2="743.25" stroke="#555" stroke-width="1"/>
<line x1="335.50" y1="733.25" x2="335.50" y2="738.75" stroke="#555" stroke-width="1"/>
<line x1="333.00" y1="733.25" x2="338.00" y2="733.25" stroke="#555" stroke-width="1"/>
<rect x="330.60" y="738.75" width="9.80" height="23.50" fill="#000"/>
<line x1="214.80" y1="761.75" x2="348.70" y2="761.75" stroke="#7f7f7f" stroke-width="1"/>
<line x1="214.80" y1="761.75" x2="214.80" y2="765.25" stroke="#7f7f7f" stroke-width="1"/>
<line x1="248.15" y1="761.75" x2="248.15" y2="765.25" stroke="#7f7f7f" stroke-width="1"/>
<line x1="281.50" y1="761.75" x2="281.50" y2="765.25" stroke="#7f7f7f" stroke-width="1"/>
<line x1="314.85" y1="761.75" x2="314.85" y2="765.25" stroke="#7f7f7f" stroke-width="1"/>
<line x1="348.20" y1="761.75" x2="348.20" y2="765.25" stroke="#7f7f7f" stroke-width="1"/>
<text x="235.00" y="655.30" font-size="10.8" text-anchor="middle" class="st">＊</text>
<text x="232.25" y="776.80" font-size="8.8" text-anchor="middle" fill="#1a1a1a">Control</text>
<text x="265.25" y="776.80" font-size="8.8" text-anchor="middle" fill="#1a1a1a">IL-1β</text>
<text x="298.10" y="776.80" font-size="8.8" text-anchor="middle" fill="#1a1a1a">IL-6</text>
<text x="331.25" y="776.80" font-size="8.8" text-anchor="middle" fill="#1a1a1a">TNF-α</text>
<text x="190.3" y="701.6" font-size="9.1" text-anchor="middle" transform="rotate(-90 190.3 701.6)" fill="#111">% CD11b<tspan font-size="5.6" dy="-3.5">+</tspan><tspan dy="3.5">GR-1</tspan><tspan font-size="5.6" dy="-3.5">+</tspan><tspan dy="3.5"> Cells in Spleen</tspan></text>
<rect x="315.50" y="640.00" width="4.6" height="4.6" fill="#fff" stroke="#666" stroke-width="0.9"/>
<rect x="315.20" y="654.40" width="5.199999999999999" height="5.0" fill="#000"/>
<text x="323.00" y="645.00" font-size="8.8" text-anchor="start" fill="#1a1a1a">-DOX</text>
<text x="323.00" y="659.50" font-size="8.8" text-anchor="start" fill="#1a1a1a">+DOX</text>
<line x1="393.00" y1="650.25" x2="393.00" y2="763.50" stroke="#7f7f7f" stroke-width="1"/>
<line x1="389.50" y1="650.75" x2="393.00" y2="650.75" stroke="#7f7f7f" stroke-width="1"/>
<text x="388.50" y="653.70" font-size="8.2" text-anchor="end" fill="#1a1a1a">25</text>
<line x1="389.50" y1="673.20" x2="393.00" y2="673.20" stroke="#7f7f7f" stroke-width="1"/>
<text x="388.50" y="676.15" font-size="8.2" text-anchor="end" fill="#1a1a1a">20</text>
<line x1="389.50" y1="695.65" x2="393.00" y2="695.65" stroke="#7f7f7f" stroke-width="1"/>
<text x="388.50" y="698.60" font-size="8.2" text-anchor="end" fill="#1a1a1a">15</text>
<line x1="389.50" y1="718.10" x2="393.00" y2="718.10" stroke="#7f7f7f" stroke-width="1"/>
<text x="388.50" y="721.05" font-size="8.2" text-anchor="end" fill="#1a1a1a">10</text>
<line x1="389.50" y1="740.55" x2="393.00" y2="740.55" stroke="#7f7f7f" stroke-width="1"/>
<text x="388.50" y="743.50" font-size="8.2" text-anchor="end" fill="#1a1a1a">5</text>
<line x1="389.50" y1="763.00" x2="393.00" y2="763.00" stroke="#7f7f7f" stroke-width="1"/>
<text x="388.50" y="765.95" font-size="8.2" text-anchor="end" fill="#1a1a1a">0</text>
<rect x="401.60" y="721.25" width="9.40" height="41.75" fill="#fff" stroke="#9c9c9c" stroke-width="1"/>
<line x1="406.30" y1="706.25" x2="406.30" y2="737.00" stroke="#555" stroke-width="1"/>
<line x1="403.80" y1="706.25" x2="408.80" y2="706.25" stroke="#555" stroke-width="1"/>
<line x1="403.80" y1="737.00" x2="408.80" y2="737.00" stroke="#555" stroke-width="1"/>
<line x1="415.70" y1="669.25" x2="415.70" y2="679.25" stroke="#555" stroke-width="1"/>
<line x1="413.20" y1="669.25" x2="418.20" y2="669.25" stroke="#555" stroke-width="1"/>
<rect x="411.00" y="679.25" width="9.40" height="84.25" fill="#000"/>
<rect x="433.10" y="717.50" width="9.40" height="45.50" fill="#fff" stroke="#9c9c9c" stroke-width="1"/>
<line x1="437.80" y1="710.50" x2="437.80" y2="724.25" stroke="#555" stroke-width="1"/>
<line x1="435.30" y1="710.50" x2="440.30" y2="710.50" stroke="#555" stroke-width="1"/>
<line x1="435.30" y1="724.25" x2="440.30" y2="724.25" stroke="#555" stroke-width="1"/>
<line x1="447.20" y1="703.25" x2="447.20" y2="717.50" stroke="#555" stroke-width="1"/>
<line x1="444.70" y1="703.25" x2="449.70" y2="703.25" stroke="#555" stroke-width="1"/>
<rect x="442.50" y="717.50" width="9.40" height="46.00" fill="#000"/>
<rect x="464.35" y="727.00" width="9.40" height="36.00" fill="#fff" stroke="#9c9c9c" stroke-width="1"/>
<line x1="469.05" y1="720.75" x2="469.05" y2="733.25" stroke="#555" stroke-width="1"/>
<line x1="466.55" y1="720.75" x2="471.55" y2="720.75" stroke="#555" stroke-width="1"/>
<line x1="466.55" y1="733.25" x2="471.55" y2="733.25" stroke="#555" stroke-width="1"/>
<line x1="478.45" y1="737.50" x2="478.45" y2="743.75" stroke="#555" stroke-width="1"/>
<line x1="475.95" y1="737.50" x2="480.95" y2="737.50" stroke="#555" stroke-width="1"/>
<rect x="473.75" y="743.75" width="9.40" height="19.75" fill="#000"/>
<rect x="495.60" y="715.50" width="9.40" height="47.50" fill="#fff" stroke="#9c9c9c" stroke-width="1"/>
<line x1="500.30" y1="694.25" x2="500.30" y2="737.50" stroke="#555" stroke-width="1"/>
<line x1="497.80" y1="694.25" x2="502.80" y2="694.25" stroke="#555" stroke-width="1"/>
<line x1="497.80" y1="737.50" x2="502.80" y2="737.50" stroke="#555" stroke-width="1"/>
<line x1="509.70" y1="715.00" x2="509.70" y2="717.50" stroke="#555" stroke-width="1"/>
<line x1="507.20" y1="715.00" x2="512.20" y2="715.00" stroke="#555" stroke-width="1"/>
<rect x="505.00" y="717.50" width="9.40" height="46.00" fill="#000"/>
<line x1="393.00" y1="763.00" x2="520.30" y2="763.00" stroke="#7f7f7f" stroke-width="1"/>
<line x1="393.00" y1="763.00" x2="393.00" y2="766.50" stroke="#7f7f7f" stroke-width="1"/>
<line x1="426.00" y1="763.00" x2="426.00" y2="766.50" stroke="#7f7f7f" stroke-width="1"/>
<line x1="457.50" y1="763.00" x2="457.50" y2="766.50" stroke="#7f7f7f" stroke-width="1"/>
<line x1="488.40" y1="763.00" x2="488.40" y2="766.50" stroke="#7f7f7f" stroke-width="1"/>
<line x1="519.80" y1="763.00" x2="519.80" y2="766.50" stroke="#7f7f7f" stroke-width="1"/>
<text x="413.80" y="670.30" font-size="10.8" text-anchor="middle" class="st">＊</text>
<text x="421.20" y="670.30" font-size="10.8" text-anchor="middle" class="st">＊</text>
<text x="411.50" y="777.00" font-size="8.2" text-anchor="middle" fill="#1a1a1a">Control</text>
<text x="442.50" y="777.00" font-size="8.2" text-anchor="middle" fill="#1a1a1a">IL-1β</text>
<text x="474.10" y="777.00" font-size="8.2" text-anchor="middle" fill="#1a1a1a">IL-6</text>
<text x="505.25" y="777.00" font-size="8.2" text-anchor="middle" fill="#1a1a1a">TNF-α</text>
<text x="372.3" y="705.6" font-size="8.5" text-anchor="middle" transform="rotate(-90 372.3 705.6)" fill="#111">% CD11b<tspan font-size="5.3" dy="-3.2">+</tspan><tspan dy="3.2">GR-1</tspan><tspan font-size="5.3" dy="-3.2">+</tspan><tspan dy="3.2"> Cells in Lung</tspan></text>
<rect x="490.20" y="648.30" width="4.8" height="4.8" fill="#fff" stroke="#666" stroke-width="0.9"/>
<rect x="489.90" y="662.00" width="5.3999999999999995" height="5.2" fill="#000"/>
<text x="497.00" y="653.30" font-size="8.4" text-anchor="start" fill="#1a1a1a">-DOX</text>
<text x="497.00" y="666.80" font-size="8.4" text-anchor="start" fill="#1a1a1a">+DOX</text>
</g>
</g>
</svg></body></html>
